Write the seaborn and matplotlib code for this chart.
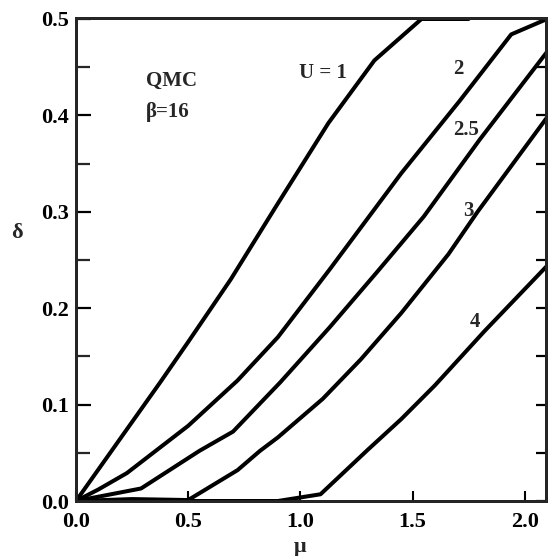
import numpy as np
import pandas as pd
import matplotlib
matplotlib.use("Agg")
import matplotlib.pyplot as plt
import matplotlib.transforms as mtransforms
import seaborn as sns

# ---- data (delta vs mu, QMC beta=16) ----
mu_u1 = [0.0, 0.375, 0.5, 0.69, 0.89, 1.125, 1.33, 1.54, 1.75]
d_u1 = [0.0, 0.123, 0.165, 0.230, 0.305, 0.392, 0.457, 0.500, 0.500]

mu_u2 = [0.0, 0.1, 0.227, 0.5, 0.72, 0.9, 1.13, 1.45, 1.71, 1.94, 2.1]
d_u2 = [0.0, 0.012, 0.029, 0.078, 0.125, 0.170, 0.240, 0.340, 0.415, 0.484, 0.500]

mu_u25 = [0.0, 0.29, 0.55, 0.70, 0.91, 1.13, 1.34, 1.55, 1.80, 2.1]
d_u25 = [0.0, 0.013, 0.052, 0.072, 0.123, 0.180, 0.237, 0.295, 0.375, 0.466]

mu_u3 = [0.0, 0.25, 0.5, 0.72, 0.82, 0.9, 1.1, 1.27, 1.45, 1.66, 1.79, 2.1]
d_u3 = [0.0, 0.002, 0.001, 0.032, 0.052, 0.066, 0.106, 0.147, 0.195, 0.256, 0.300, 0.398]

mu_u4 = [0.0, 0.5, 0.9, 1.09, 1.30, 1.45, 1.60, 1.82, 2.1]
d_u4 = [0.0, 0.0, 0.0, 0.007, 0.053, 0.085, 0.120, 0.176, 0.244]

curve_labels = ["U = 1", "2", "2.5", "3", "4"]
label_x = [1.10, 1.705, 1.737, 1.75, 1.777]
label_y = [0.444, 0.448, 0.385, 0.301, 0.186]

xticks = [0.0, 0.5, 1.0, 1.5, 2.0]
xticklabels = ["0.0", "0.5", "1.0", "1.5", "2.0"]
yticks = [0.0, 0.1, 0.2, 0.3, 0.4, 0.5]
yticklabels = ["0.0", "0.1", "0.2", "0.3", "0.4", "0.5"]
yminor = [0.05, 0.15, 0.25, 0.35, 0.45]

frames = []
for name, xs, ys in [("1", mu_u1, d_u1), ("2", mu_u2, d_u2), ("2.5", mu_u25, d_u25),
                     ("3", mu_u3, d_u3), ("4", mu_u4, d_u4)]:
    frames.append(pd.DataFrame({"mu": xs, "delta": ys, "U": name}))
df = pd.concat(frames, ignore_index=True)

sns.set_theme(style="white")
plt.rcParams["font.family"] = ["Liberation Serif", "DejaVu Serif"]
plt.rcParams["font.weight"] = "bold"

fig = plt.figure(figsize=(5.5, 5.56), dpi=100)
ax = fig.add_axes([0.1382, 0.0989, 0.8545, 0.8687])

sns.lineplot(data=df, x="mu", y="delta", units="U", estimator=None, sort=False,
             color="black", linewidth=2.9, ax=ax, legend=False)

ax.set_xlim(0.0, 2.095)
ax.set_ylim(0.0, 0.501)

for s in ax.spines.values():
    s.set_visible(True)
    s.set_color("black")
    s.set_linewidth(2.0)

ax.set_xticks(xticks)
ax.set_xticklabels(xticklabels, fontsize=16, fontweight="bold")
ax.set_yticks(yticks)
ax.set_yticklabels(yticklabels, fontsize=16, fontweight="bold")
ax.set_yticks(yminor, minor=True)
ax.tick_params(axis="x", which="major", direction="in", length=7.5, width=1.5,
               pad=8, bottom=True, top=False, colors="black")
ax.tick_params(axis="y", which="major", direction="in", length=10.5, width=1.6,
               pad=5, left=True, right=False, colors="black")
ax.tick_params(axis="y", which="minor", direction="in", length=10, width=1.6,
               left=True, right=False)

ax2 = ax.twinx()
ax2.set_ylim(ax.get_ylim())
ax2.set_yticks(yticks)
ax2.set_yticks(yminor, minor=True)
ax2.tick_params(axis="y", which="both", direction="in", length=7, width=1.6,
                right=True, labelright=False, colors="black")
for s in ax2.spines.values():
    s.set_linewidth(2.0)

ax.set_xlabel("")
ax.set_ylabel("")
# axis titles placed as in the reference (delta left of axis, mu under 1.0)
ax.text(-0.125, 0.555, "δ", fontsize=16, fontweight="bold", ha="center", va="center",
        transform=ax.transAxes)
trans_mu = mtransforms.blended_transform_factory(ax.transData, ax.transAxes)
ax.text(1.0, -0.095, "μ", fontsize=16, fontweight="bold", ha="center", va="center",
        transform=trans_mu)

for t, x, y in zip(curve_labels, label_x, label_y):
    ax.text(x, y, t, fontsize=15, fontweight="bold", ha="center", va="center")

ax.text(0.312, 0.436, "QMC", fontsize=15, fontweight="bold", ha="left", va="center")
ax.text(0.312, 0.403, "β=16", fontsize=15, fontweight="bold", ha="left", va="center")

fig.savefig("out.png", dpi=100)
